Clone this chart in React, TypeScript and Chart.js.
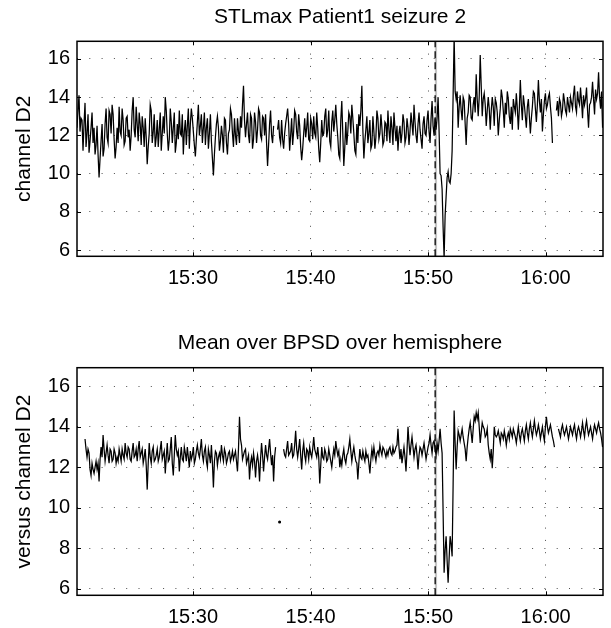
import { useEffect, useRef } from "react";
import { Chart, registerables } from "chart.js";

Chart.register(...registerables);

// time axis: minutes after 15:00; values every half epoch (5.12 s)
const START_MIN = 20.13;
const STEP_MIN = 5.12 / 60;
const X_MIN = 20.13;
const X_MAX = 64.88;
const Y_MIN = 5.68;
const Y_MAX = 16.92;
const X_TICKS = [30, 40, 50, 60];
const X_TICK_LABELS = ["15:30", "15:40", "15:50", "16:00"];
const Y_TICKS = [6, 8, 10, 12, 14, 16];
const SEIZURE_ONSET = 50.6;

const TITLES = ["STLmax Patient1 seizure 2", "Mean over BPSD over hemisphere"];
const Y_LABELS = ["channel D2", "versus channel D2"];

// STLmax, channel D2 (full epochs)
const STL_D2: (number | null)[] = [
  12.4, 14.1, 12.9, 11.2, 13.7, 12.1, 11.1, 12.4, 11.6, 11.0,
  12.5, 9.8, 11.7, 10.9, 12.6, 11.9, 13.3, 12.1, 13.1, 10.8,
  12.4, 13.5, 12.0, 12.8, 11.7, 13.0, 12.3, 12.0, 14.0, 11.9,
  12.6, 13.2, 11.5, 12.4, 12.9, 10.5, 12.1, 13.3, 12.2, 11.4,
  12.8, 12.3, 11.2, 13.0, 14.0, 12.1, 11.8, 12.7, 12.4, 11.1,
  12.6, 13.3, 12.0, 11.0, 12.8, 12.5, 11.3, 13.4, 12.2, 10.9,
  12.7, 12.0, 13.1, 12.4, 11.5, 12.9, 12.1, 11.7, 9.9, 11.9,
  13.0, 11.2, 12.5, 11.1, 12.8, 11.0, 12.3, 13.1, 11.4, 12.0,
  12.9, 11.6, 12.4, 14.6, 11.9, 13.2, 11.6, 12.9, 11.8, 12.7,
  12.3, 13.2, 11.8, 12.9, 13.1, 10.4, 12.6, 12.0, 12.5, null,
  12.3, 11.9, 12.8, 11.3, 12.6, 13.4, 11.2, 12.9, 12.2, 13.1,
  11.8, 12.5, 10.7, 12.1, 11.9, 13.2, 11.7, 12.6, 13.0, 11.9,
  12.4, 10.6, 12.8, 12.1, 13.4, 12.3, 11.7, 12.7, 12.2, 13.6,
  11.9, 10.8, 13.8, 10.4, 12.7, 12.2, 13.0, 13.6, 12.1, 11.0,
  11.6, 12.5, 14.6, 10.8, 12.3, 11.6, 12.8, 11.5, 12.2, 11.9,
  12.9, 12.1, 12.4, 11.7, 12.6, 13.3, 11.6, 12.4, 13.2, 11.7,
  11.2, 12.5, 12.1, 12.7, 11.9, 12.4, 12.2, 12.6, 13.6, 12.0,
  12.6, 12.3, 11.3, 13.0, 12.0, 13.3, 11.6, 13.8, 12.0, 12.3,
  14.0, 10.0, 9.2, 5.6, 8.8, 10.1, 9.5, 11.2, 17.2, 13.9,
  12.4, 14.1, 12.8, 13.8, 11.5, 13.2, 14.0, 12.8, 14.0, 15.2,
  13.0, 16.2, 13.0, 14.2, 12.5, 14.0, 12.3, 14.0, 12.5, 13.7,
  12.0, 13.4, 14.0, 12.4, 13.1, 13.9, 12.6, 12.3, 13.5, 14.2,
  12.3, 14.9, 12.8, 13.6, 12.4, 13.9, 12.1, 13.5, 14.2, 12.7,
  14.9, 13.2, 12.2, 13.8, 13.4, 14.0, 13.5, 11.6, null, 13.3,
  13.0, 13.7, 13.3, 13.8, 13.1, 13.6, 14.0, 13.4, 14.6, 13.2,
  13.8, 14.5, 12.9, 13.6, 14.5, 12.4, 13.7, 14.8, 13.1, 13.9,
  15.3, 13.4, 12.4,
];

// STLmax, channel D2 (half-epoch values between the above)
const STL_D2_HALF: (number | null)[] = [
  13.3, 12.2, 12.8, 12.6, 11.4, 13.1, 11.7, 13.2, 12.4, 11.5,
  11.0, 10.8, 12.6, 11.3, 13.4, 11.6, 13.1, 13.6, 11.8, 11.4,
  11.6, 12.2, 13.4, 11.5, 12.9, 11.9, 11.2, 13.3, 12.3, 13.5,
  11.7, 12.6, 13.0, 11.4, 11.9, 11.4, 13.6, 11.6, 13.1, 11.9,
  11.4, 13.2, 12.1, 12.1, 13.3, 11.2, 13.4, 11.6, 13.2, 11.6,
  11.8, 12.1, 13.1, 12.2, 11.5, 13.4, 12.6, 12.9, 11.5, 11.8,
  13.6, 12.5, 11.6, 13.2, 12.4, 11.3, 13.1, 10.8, 11.0, 12.6,
  12.4, 11.7, 12.0, 12.9, 11.6, 12.1, 13.4, 12.1, 12.9, 11.5,
  12.2, 13.0, 13.6, 12.8, 12.6, 12.0, 13.1, 11.3, 13.2, 11.6,
  13.4, 12.0, 13.0, 12.0, 11.6, 11.5, 13.3, 11.6, null, null,
  12.8, 11.6, 11.8, 12.1, 13.0, 12.6, 12.0, 11.5, 13.3, 12.2,
  13.1, 11.4, 11.3, 12.9, 12.4, 11.8, 12.9, 11.8, 12.1, 13.2,
  11.3, 11.6, 12.0, 13.0, 11.9, 13.3, 11.4, 13.3, 12.8, 12.6,
  11.0, 12.8, 12.1, 11.4, 11.5, 13.2, 12.1, 12.9, 11.2, 12.6,
  13.1, 13.3, 12.3, 11.7, 13.0, 12.1, 11.3, 13.0, 11.3, 13.3,
  11.8, 13.1, 11.5, 12.7, 11.7, 12.3, 13.0, 11.5, 12.4, 12.5,
  12.1, 11.6, 13.1, 11.6, 12.9, 11.5, 13.2, 12.0, 12.7, 11.6,
  13.2, 11.8, 12.6, 12.1, 12.8, 12.2, 12.9, 12.5, 12.9, 12.9,
  12.2, 9.9, 7.2, 7.8, 9.8, 9.6, 10.0, 14.1, 14.3, 14.3,
  13.5, 13.3, 14.0, 12.6, 12.9, 14.1, 12.9, 13.6, 13.2, 13.9,
  14.0, 14.6, 13.9, 13.6, 13.3, 13.4, 13.3, 13.5, 13.9, 13.2,
  12.8, 14.4, 13.3, 13.7, 14.3, 13.0, 13.5, 13.9, 13.2, 13.4,
  13.4, 13.6, 14.1, 13.0, 13.5, 13.0, 12.9, 14.3, 13.4, 13.6,
  13.8, 13.9, 13.1, 14.2, 13.6, 14.2, 12.9, null, null, 13.8,
  13.9, 13.0, 14.2, 13.3, 14.0, 13.2, 13.7, 14.1, 13.5, 14.3,
  13.6, 13.8, 14.1, 13.9, 13.3, 13.6, 14.0, 13.9, 14.4, 14.2,
  14.0, 14.3,
];

// mean over BPSD versus channel D2 (full epochs)
const BPSD_D2: (number | null)[] = [
  null, null, null, null, 13.4, 12.5, 12.7, 11.6, 11.9, 12.0,
  11.9, 11.3, 13.0, 13.6, 12.3, 13.1, 12.2, 12.8, 12.4, 12.7,
  12.5, 12.9, 12.3, 12.6, 13.2, 12.5, 12.9, 12.3, 13.2, 12.6,
  12.3, 13.3, 12.7, 12.2, 12.9, 10.9, 13.2, 12.2, 13.0, 12.4,
  12.9, 12.5, 13.3, 12.6, 11.7, 13.2, 12.4, 13.5, 11.6, 13.6,
  12.6, 11.8, 13.0, 12.3, 12.7, 13.0, 12.0, 12.4, 13.0, 12.4,
  13.1, 12.5, 13.4, 12.3, 13.0, 12.0, 12.6, 13.1, 11.0, 12.8,
  12.1, 12.7, 13.1, 12.3, 12.7, 12.4, 12.8, 12.5, 12.4, 12.8,
  11.8, 14.5, 13.1, 12.6, 12.9, 12.4, 11.4, 12.5, 12.7, 11.5,
  12.6, 11.3, 13.2, 11.8, 13.1, 12.4, 13.4, 12.1, 11.3, 13.0,
  null, 9.3, null, 12.9, 12.5, 13.3, 12.7, 13.2, 12.6, 13.8,
  12.5, 13.4, 11.9, 13.2, 12.3, 12.8, 13.0, 12.5, 13.5, 12.7,
  13.0, 11.2, 13.0, 12.4, 12.7, 12.4, 12.6, 12.0, 12.9, 13.3,
  12.6, 12.0, 12.1, 12.9, 12.2, 12.7, 13.4, 12.3, 13.0, 12.3,
  11.4, 12.9, 12.4, 12.5, 12.8, 12.6, 11.7, 12.9, 13.0, 12.3,
  12.8, 13.1, 12.6, 12.9, 12.5, 12.6, 13.0, 12.6, 12.7, 13.0,
  13.9, 12.4, 12.2, 13.0, 11.8, 14.0, 12.6, 13.5, 12.5, 13.1,
  11.9, 13.0, 12.6, 13.2, 12.4, 13.0, 13.6, 12.7, 13.3, 12.6,
  12.8, 13.9, 12.7, 6.8, 8.6, 6.3, 8.6, 7.6, 14.8, 11.9,
  13.8, 13.3, 13.9, 13.2, 12.3, 13.5, 14.2, 13.2, 14.5, 14.7,
  14.7, 13.2, 14.2, 13.9, 13.6, 13.1, 12.4, 11.95, 14.0, 13.5,
  13.8, 13.2, 13.6, 13.8, 13.1, 13.7, 13.9, 13.5, 13.7, 13.2,
  14.0, 13.3, 13.9, 13.3, 14.1, 13.4, 14.2, 13.5, 14.3, 13.6,
  14.1, 13.4, 14.0, 13.3, 14.5, 13.7, 14.1, 13.5, 13.0, null,
  13.9, 13.5, 14.1, 13.6, 14.0, 13.4, 14.0, 13.6, 14.1, 13.4,
  14.0, 13.5, 14.2, 13.5, 14.3, 13.6, 14.0, 13.4, 14.1, 13.7,
  14.2, 13.7, 13.0,
];

// mean over BPSD versus channel D2 (half-epoch values)
const BPSD_D2_HALF: (number | null)[] = [
  null, null, null, null, 12.9, 12.9, 11.9, 12.2, 11.7, 12.3,
  12.2, 12.4, 12.5, 12.9, 12.7, 12.6, 12.9, 12.3, 12.9, 12.2,
  12.3, 12.6, 12.9, 12.4, 12.7, 13.0, 12.4, 12.8, 12.5, 12.9,
  12.9, 12.5, 12.9, 12.5, 12.1, 12.2, 12.5, 12.8, 12.3, 12.6,
  12.3, 12.9, 12.4, 12.8, 12.5, 12.3, 12.9, 12.2, 12.6, 12.9,
  12.8, 12.5, 12.4, 13.0, 12.3, 12.5, 12.8, 12.6, 12.2, 12.8,
  12.7, 12.9, 12.6, 12.8, 12.3, 12.9, 12.2, 12.2, 12.3, 12.7,
  12.5, 12.4, 12.6, 12.9, 12.2, 12.7, 12.3, 12.8, 12.6, 12.3,
  12.9, 13.4, 12.4, 12.8, 12.2, 12.6, 12.2, 12.1, 12.3, 12.3,
  12.2, 12.4, 12.6, 12.5, 12.6, 12.9, 12.7, 12.6, 12.5, null,
  null, null, null, 12.6, 12.9, 12.6, 12.8, 12.5, 13.1, 12.9,
  12.9, 12.6, 12.8, 12.6, 12.9, 12.4, 12.7, 12.9, 12.9, 12.5,
  12.5, 12.1, 12.5, 12.9, 12.3, 12.9, 12.3, 12.5, 12.6, 12.9,
  12.8, 12.4, 12.6, 12.4, 12.6, 13.0, 12.8, 12.7, 12.6, 12.2,
  12.2, 12.5, 12.8, 12.3, 12.5, 12.2, 12.4, 12.5, 12.6, 12.7,
  12.6, 12.8, 13.0, 12.7, 12.8, 12.9, 12.7, 13.0, 12.8, 13.1,
  13.0, 12.9, 12.6, 12.5, 12.8, 13.2, 13.1, 13.0, 12.9, 12.6,
  12.6, 12.9, 12.9, 12.8, 12.7, 13.2, 13.1, 13.2, 12.9, 13.2,
  13.3, 13.2, 9.8, 7.9, 7.4, 7.5, 8.2, 11.2, 13.2, 13.0,
  13.6, 13.6, 13.5, 12.9, 13.0, 13.9, 13.7, 13.9, 14.3, 14.4,
  14.0, 13.7, 14.0, 13.5, 13.9, 12.7, 12.9, 12.8, 13.6, 13.6,
  13.5, 13.7, 13.4, 13.5, 13.5, 13.4, 13.7, 13.9, 13.5, 13.6,
  13.6, 13.7, 13.6, 13.8, 13.7, 13.9, 13.8, 13.9, 13.9, 13.8,
  13.8, 13.7, 13.6, 14.0, 14.0, 13.9, 13.8, 13.3, null, null,
  13.7, 13.9, 13.8, 13.8, 13.7, 13.7, 13.8, 13.9, 13.7, 13.8,
  13.8, 13.8, 13.8, 14.0, 13.9, 13.8, 13.7, 13.8, 13.9, 14.0,
  13.9, 13.4,
];

const FONT = "'Liberation Sans', Arial, Helvetica, sans-serif";

type Geo = {
  height: number;
  titleTop: number;
  titleBottom: number;
  xAxisHeight: number;
};

const GEOS: Geo[] = [
  { height: 300, titleTop: 5, titleBottom: 11.1, xAxisHeight: 43.7 },
  { height: 328, titleTop: 30.7, titleBottom: 11.8, xAxisHeight: 32.7 },
];

function interleave(full: (number | null)[], half: (number | null)[]) {
  const out: (number | null)[] = [];
  for (let i = 0; i < full.length; i++) {
    out.push(full[i]);
    if (i < full.length - 1) out.push(i < half.length ? half[i] : null);
  }
  return out;
}

const boxPlugin = {
  id: "matlabBox",
  afterDatasetsDraw(chart: any) {
    const { ctx, chartArea, scales } = chart;
    const { left, right, top, bottom } = chartArea;
    ctx.save();
    ctx.strokeStyle = "#000";
    ctx.lineWidth = 1.5;
    ctx.setLineDash([]);
    ctx.strokeRect(left, top, right - left, bottom - top);
    ctx.lineWidth = 1;
    ctx.beginPath();
    const tl = 4;
    for (const v of X_TICKS) {
      const px = Math.round(scales.x.getPixelForValue(v)) + 0.5;
      ctx.moveTo(px, bottom);
      ctx.lineTo(px, bottom - tl);
      ctx.moveTo(px, top);
      ctx.lineTo(px, top + tl);
    }
    for (const v of Y_TICKS) {
      const py = Math.round(scales.y.getPixelForValue(v)) + 0.5;
      ctx.moveTo(left, py);
      ctx.lineTo(left + tl, py);
      ctx.moveTo(right, py);
      ctx.lineTo(right - tl, py);
    }
    ctx.stroke();
    ctx.restore();
  },
};

function makeConfig(values: (number | null)[], title: string, ylabel: string, geo: Geo): any {
  const pts = values.map((v, i) => ({ x: START_MIN + i * STEP_MIN, y: v }));
  const isolated = (i: number) =>
    values[i] != null &&
    (i === 0 || values[i - 1] == null) &&
    (i === values.length - 1 || values[i + 1] == null);
  return {
    type: "line",
    data: {
      datasets: [
        {
          data: pts,
          borderColor: "#000",
          backgroundColor: "#000",
          borderWidth: 1.25,
          pointRadius: (c: any) => (isolated(c.dataIndex) ? 0.9 : 0),
          pointHoverRadius: 0,
          spanGaps: false,
          tension: 0,
          order: 0,
        },
        {
          data: [
            { x: SEIZURE_ONSET + 0.07, y: Y_MIN },
            { x: SEIZURE_ONSET + 0.07, y: Y_MAX },
          ],
          borderColor: "#c4c4c4",
          borderWidth: 2.2,
          pointRadius: 0,
          order: 2,
        },
        {
          data: [
            { x: SEIZURE_ONSET, y: Y_MIN },
            { x: SEIZURE_ONSET, y: Y_MAX },
          ],
          borderColor: "#000",
          borderWidth: 1.3,
          borderDash: [7, 4],
          pointRadius: 0,
          order: 1,
        },
      ],
    },
    options: {
      animation: false,
      responsive: false,
      events: [],
      layout: { padding: { left: 0, right: 8, top: 0, bottom: 0 } },
      plugins: {
        legend: { display: false },
        tooltip: { enabled: false },
        title: {
          display: true,
          text: title,
          fullSize: false,
          color: "#000",
          font: { family: FONT, size: 21, weight: "normal" },
          padding: { top: geo.titleTop, bottom: geo.titleBottom },
        },
      },
      scales: {
        x: {
          type: "linear",
          min: X_MIN,
          max: X_MAX,
          afterBuildTicks: (s: any) => {
            s.ticks = X_TICKS.map((v) => ({ value: v }));
          },
          afterFit: (s: any) => {
            s.height = geo.xAxisHeight;
          },
          ticks: {
            color: "#000",
            font: { family: FONT, size: 20 },
            padding: 10,
            maxRotation: 0,
            autoSkip: false,
            callback: (v: number) => {
              const k = X_TICKS.indexOf(v);
              return k >= 0 ? X_TICK_LABELS[k] : "";
            },
          },
          grid: { color: "rgba(0,0,0,0.7)", lineWidth: 1, drawTicks: false },
          border: { display: false, dash: [1, 11.3] },
        },
        y: {
          type: "linear",
          min: Y_MIN,
          max: Y_MAX,
          afterBuildTicks: (s: any) => {
            s.ticks = Y_TICKS.map((v) => ({ value: v }));
          },
          afterFit: (s: any) => {
            s.width = 77;
          },
          ticks: {
            color: "#000",
            font: { family: FONT, size: 20 },
            padding: 7,
            autoSkip: false,
            callback: (v: number) => String(v),
          },
          grid: { color: "rgba(0,0,0,0.7)", lineWidth: 1, drawTicks: false },
          border: { display: false, dash: [1, 11.3] },
          title: {
            display: true,
            text: ylabel,
            color: "#000",
            font: { family: FONT, size: 21, weight: "normal" },
            padding: { top: 12, bottom: 0 },
          },
        },
      },
    },
    plugins: [boxPlugin],
  };
}

export default function App() {
  const ref1 = useRef<HTMLCanvasElement>(null);
  const ref2 = useRef<HTMLCanvasElement>(null);

  useEffect(() => {
    const c1 = new Chart(
      ref1.current!,
      makeConfig(interleave(STL_D2, STL_D2_HALF), TITLES[0], Y_LABELS[0], GEOS[0])
    );
    const c2 = new Chart(
      ref2.current!,
      makeConfig(interleave(BPSD_D2, BPSD_D2_HALF), TITLES[1], Y_LABELS[1], GEOS[1])
    );
    return () => {
      c1.destroy();
      c2.destroy();
    };
  }, []);

  return (
    <div
      style={{
        position: "absolute",
        left: 0,
        top: 0,
        width: 611,
        height: 628,
        background: "#fff",
        overflow: "hidden",
      }}
    >
      <canvas
        ref={ref1}
        width={611}
        height={GEOS[0].height}
        style={{ position: "absolute", left: 0, top: 0, width: 611, height: GEOS[0].height }}
      />
      <canvas
        ref={ref2}
        width={611}
        height={GEOS[1].height}
        style={{ position: "absolute", left: 0, top: GEOS[0].height, width: 611, height: GEOS[1].height }}
      />
    </div>
  );
}
